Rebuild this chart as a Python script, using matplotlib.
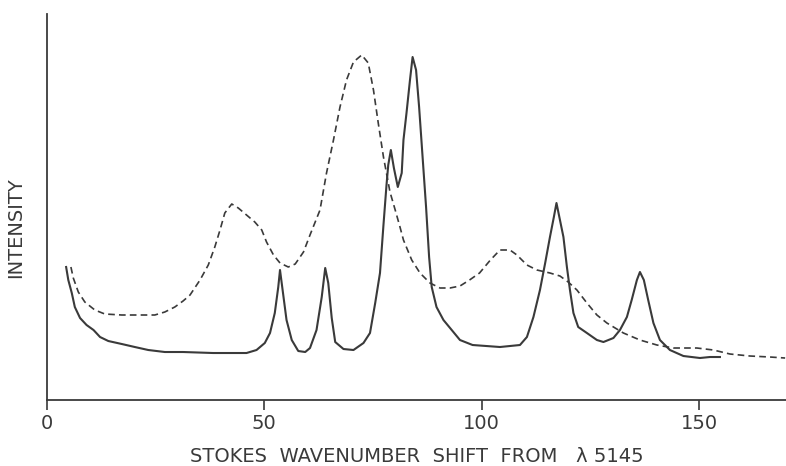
import matplotlib.pyplot as plt

# wavenumber shift (cm-1) and intensity (arbitrary units)
solid_x = [4.4, 4.9, 5.7, 6.4, 7.6, 9.1, 10.7, 12.2, 14.1, 17.2, 20.2, 23.3,
           27.1, 31.3, 38.2, 45.9, 48.2, 50.1, 51.3, 52.4, 53.2, 53.6, 54.2,
           55.1, 56.3, 57.8, 59.4, 60.5, 62.0, 63.2, 64.0, 64.7, 65.5, 66.3,
           68.2, 70.5, 72.8, 74.3, 75.5, 76.6, 77.4, 78.1, 78.5, 79.1, 79.8,
           80.7, 81.6, 82.0, 82.7, 83.5, 84.1, 84.9, 85.6, 86.4, 87.2, 87.9,
           88.5, 89.6, 91.2, 93.1, 95.0, 97.9, 104.2, 108.8, 110.4, 111.9,
           113.4, 114.6, 115.7, 116.6, 117.2, 118.0, 118.8, 119.6, 120.3,
           121.1, 122.2, 124.2, 126.5, 128.0, 130.3, 131.8, 133.4, 134.5,
           135.7, 136.4, 137.3, 138.3, 139.5, 141.0, 143.3, 146.4, 150.2,
           152.5, 154.8]
solid_y = [133, 120, 107, 93, 82, 75, 70, 63, 59, 56, 53, 50,
           48, 48, 47, 47, 50, 57, 67, 87, 113, 130, 110,
           80, 60, 49, 48, 52, 70, 103, 132, 117, 82, 58,
           51, 50, 57, 67, 97, 127, 175, 215, 235, 250, 232,
           213, 227, 260, 287, 320, 343, 330, 293, 243, 193, 143,
           113, 93, 80, 70, 60, 55, 53, 55, 63, 83,
           110, 137, 163, 183, 197, 180, 163, 133, 110,
           87, 73, 67, 60, 58, 62, 70, 83, 100,
           120, 128, 120, 100, 77, 60, 50, 44, 42,
           43, 43]

dash_x = [5.5, 6.05, 7.2, 8.7, 11.0, 13.3, 17.2, 20.9, 24.8, 27.1, 29.4, 31.3,
          32.9, 35.2, 37.1, 38.6, 39.8, 40.9, 42.5, 44.0, 45.9, 47.8, 49.4,
          50.5, 52.1, 53.6, 55.5, 57.1, 59.0, 60.5, 62.8, 64.3, 65.9, 67.4,
          68.9, 70.5, 72.4, 73.9, 75.1, 76.2, 77.4, 78.9, 80.1, 81.2, 82.0,
          83.9, 85.8, 88.1, 90.4, 92.7, 95.0, 97.2, 99.5, 102.0, 104.2, 106.5,
          108.1, 110.4, 112.7, 115.7, 118.0, 119.9, 121.9, 124.2, 126.5,
          128.8, 132.6, 136.4, 140.3, 144.1, 149.5, 153.3, 157.1, 161.7,
          166.3, 169.8]
dash_y = [133, 122, 108, 98, 90, 86, 85, 85, 85, 88, 93, 99,
          105, 120, 135, 153, 170, 187, 196, 192, 185, 178, 170,
          158, 145, 137, 133, 136, 148, 165, 190, 227, 260, 293,
          320, 338, 345, 337, 310, 277, 243, 208, 190, 173, 160,
          140, 127, 117, 112, 112, 114, 120, 127, 140, 150, 150,
          145, 135, 130, 127, 124, 118, 110, 97, 85,
          77, 67, 60, 55, 52, 52, 50, 46, 44,
          43, 42]

xticks = [0, 50, 100, 150]

fig = plt.figure(figsize=(7.86, 4.66), dpi=100)
ax = fig.add_axes([0.0598, 0.1416, 0.9402, 0.8284])

ink = '#3a3a3a'
ax.plot(solid_x, solid_y, color=ink, linewidth=1.5)
ax.plot(dash_x, dash_y, color=ink, linewidth=1.2, linestyle=(0, (4, 2.5)))

ax.set_xlim(0, 170)
ax.set_ylim(0, 386)
ax.set_xticks(xticks)
ax.set_xticklabels([str(t) for t in xticks], fontsize=14, color=ink)
ax.set_yticks([])
ax.tick_params(axis='x', direction='out', length=7, width=1.2, color=ink, pad=3)

for side in ['top', 'right']:
    ax.spines[side].set_visible(False)
for side in ['left', 'bottom']:
    ax.spines[side].set_color(ink)
    ax.spines[side].set_linewidth(1.3)

ax.set_xlabel('STOKES  WAVENUMBER  SHIFT  FROM   λ 5145', fontsize=14,
              color=ink, labelpad=10)
ax.set_ylabel('INTENSITY', fontsize=14, color=ink)
ax.yaxis.set_label_coords(-0.029, 0.446)

fig.savefig('out.png', dpi=100)
plt.close(fig)
